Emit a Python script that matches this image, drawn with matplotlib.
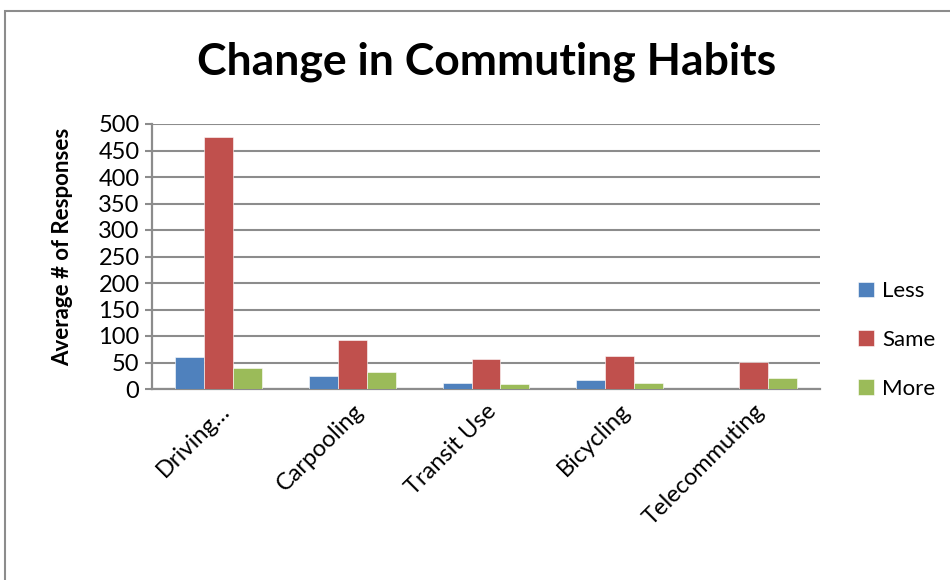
import matplotlib
matplotlib.use("Agg")
import matplotlib.pyplot as plt
import matplotlib.patches as mpatches
import numpy as np

# ── Datos ───────────────────────────────────────────────────────────────────
categorias = ["Driving…", "Carpooling", "Transit Use", "Bicycling", "Telecommuting"]
series = ["Less", "Same", "More"]
less = [60, 24, 11, 17, 0]
same = [476, 92, 57, 63, 51]
more = [40, 32, 9, 12, 21]
colores = ["#4F81BD", "#C0504D", "#9BBB59"]

plt.rcParams["font.family"] = ["Lato", "DejaVu Sans"]

fig = plt.figure(figsize=(9.5, 5.8), dpi=100)
ax = fig.add_axes([152 / 950, 1 - 389 / 580, (820 - 152) / 950, (389 - 124) / 580])

# marco exterior del gráfico
fig.patches.append(mpatches.Rectangle((5 / 950, -0.1), 1.2, 1 - 11 / 580 + 0.1,
                                      transform=fig.transFigure, fill=False,
                                      edgecolor="#8C8C8C", linewidth=1.5))

x = np.arange(len(categorias))
w = 0.217
for i, (vals, col, nombre) in enumerate(zip([less, same, more], colores, series)):
    ax.bar(x + (i - 1) * w, vals, w, color=col, label=nombre,
           edgecolor="white", linewidth=0.4, zorder=3)

ax.set_xlim(-0.5, len(categorias) - 0.5)
ax.set_ylim(0, 500)
ax.set_yticks(range(0, 501, 50))
ax.yaxis.grid(True, color="#8C8C8C", linewidth=1.5, zorder=0)
ax.tick_params(axis="y", length=5, width=1.5, color="#8C8C8C",
               labelsize=17, pad=4)
ax.tick_params(axis="x", length=0, labelsize=17, pad=8)
ax.set_xticks(x)
ax.set_xticklabels(categorias, rotation=45, ha="right", rotation_mode="anchor")

for lado in ["top", "right"]:
    ax.spines[lado].set_visible(False)
for lado in ["left", "bottom"]:
    ax.spines[lado].set_color("#8C8C8C")
    ax.spines[lado].set_linewidth(1.6)

ax.set_ylabel("Average # of Responses", fontsize=16, fontweight="bold")
ax.yaxis.set_label_coords(-0.118, 0.535)
fig.text(487 / 950, 1 - 62 / 580, "Change in Commuting Habits", ha="center",
         va="center", fontsize=32, fontweight="bold")

fig.legend(loc="center left", bbox_to_anchor=(858 / 950, 1 - 340 / 580),
           frameon=False, fontsize=16, handlelength=0.7, handleheight=0.7,
           handletextpad=0.4, labelspacing=1.3, borderpad=0, borderaxespad=0)

plt.savefig("out.png", dpi=100)
